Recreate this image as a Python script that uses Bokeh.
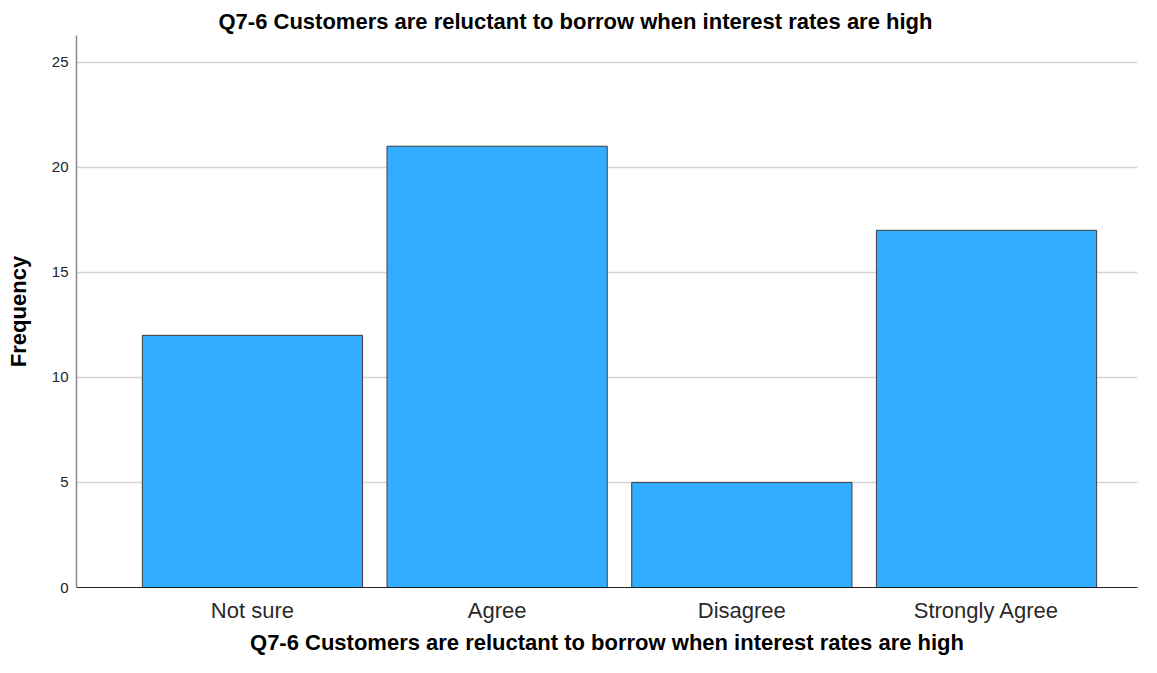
from bokeh.plotting import figure
from bokeh.models import ColumnDataSource, FixedTicker, Range1d
from bokeh.embed import file_html
from bokeh.resources import INLINE

categories = ["Not sure", "Agree", "Disagree", "Strongly Agree"]
frequency = [12, 21, 5, 17]
y_ticks = [0, 5, 10, 15, 20, 25]
title_text = "Q7-6 Customers are reluctant to borrow when interest rates are high"

xpos = list(range(1, len(categories) + 1))
src = ColumnDataSource(dict(x=xpos, top=frequency, cat=categories))

p = figure(width=1141, height=657, output_backend="svg", toolbar_location=None,
           x_range=Range1d(0.281, 4.617), y_range=Range1d(0, 26.27),
           min_border_left=76, min_border_right=4, min_border_top=35, min_border_bottom=67)

p.title.text = title_text
p.title.align = "left"
p.title.offset = 142
p.title.text_font = "Liberation Sans"
p.title.text_font_size = "22px"
p.title.text_font_style = "bold"
p.title.text_color = "#000000"
p.title.standoff = 4

p.vbar(x="x", top="top", width=0.9, source=src, fill_color="#33adff",
       line_color="#3c3c3c", line_width=1)

p.outline_line_color = None
p.xgrid.visible = False
p.ygrid.grid_line_color = "#d4d4d4"
p.ygrid.grid_line_width = 1.5

p.yaxis.ticker = FixedTicker(ticks=y_ticks)
p.yaxis.minor_tick_line_color = None
p.yaxis.major_tick_out = 0
p.yaxis.major_tick_in = 0
p.yaxis.axis_line_color = "#8a8a8a"
p.yaxis.axis_line_width = 1.5
p.yaxis.major_label_text_font = "Liberation Sans"
p.yaxis.major_label_text_font_size = "15px"
p.yaxis.major_label_text_color = "#222222"
p.yaxis.major_label_standoff = 8
p.yaxis.axis_label = "Frequency"
p.yaxis.axis_label_text_font = "Liberation Sans"
p.yaxis.axis_label_text_font_size = "22px"
p.yaxis.axis_label_text_font_style = "bold"
p.yaxis.axis_label_text_color = "#000000"
p.yaxis.axis_label_standoff = 18

p.xaxis.ticker = FixedTicker(ticks=xpos)
p.xaxis.major_label_overrides = {x: c for x, c in zip(xpos, categories)}
p.xaxis.minor_tick_line_color = None
p.xaxis.major_tick_out = 0
p.xaxis.major_tick_in = 0
p.xaxis.axis_line_color = "#222222"
p.xaxis.axis_line_width = 1.2
p.xaxis.major_label_text_font = "Liberation Sans"
p.xaxis.major_label_text_font_size = "22px"
p.xaxis.major_label_text_color = "#2a2a2a"
p.xaxis.major_label_standoff = 10
p.xaxis.axis_label = title_text
p.xaxis.axis_label_text_font = "Liberation Sans"
p.xaxis.axis_label_text_font_size = "22px"
p.xaxis.axis_label_text_font_style = "bold"
p.xaxis.axis_label_text_color = "#000000"
p.xaxis.axis_label_standoff = 4

open("out.html", "w").write(file_html(p, INLINE))
